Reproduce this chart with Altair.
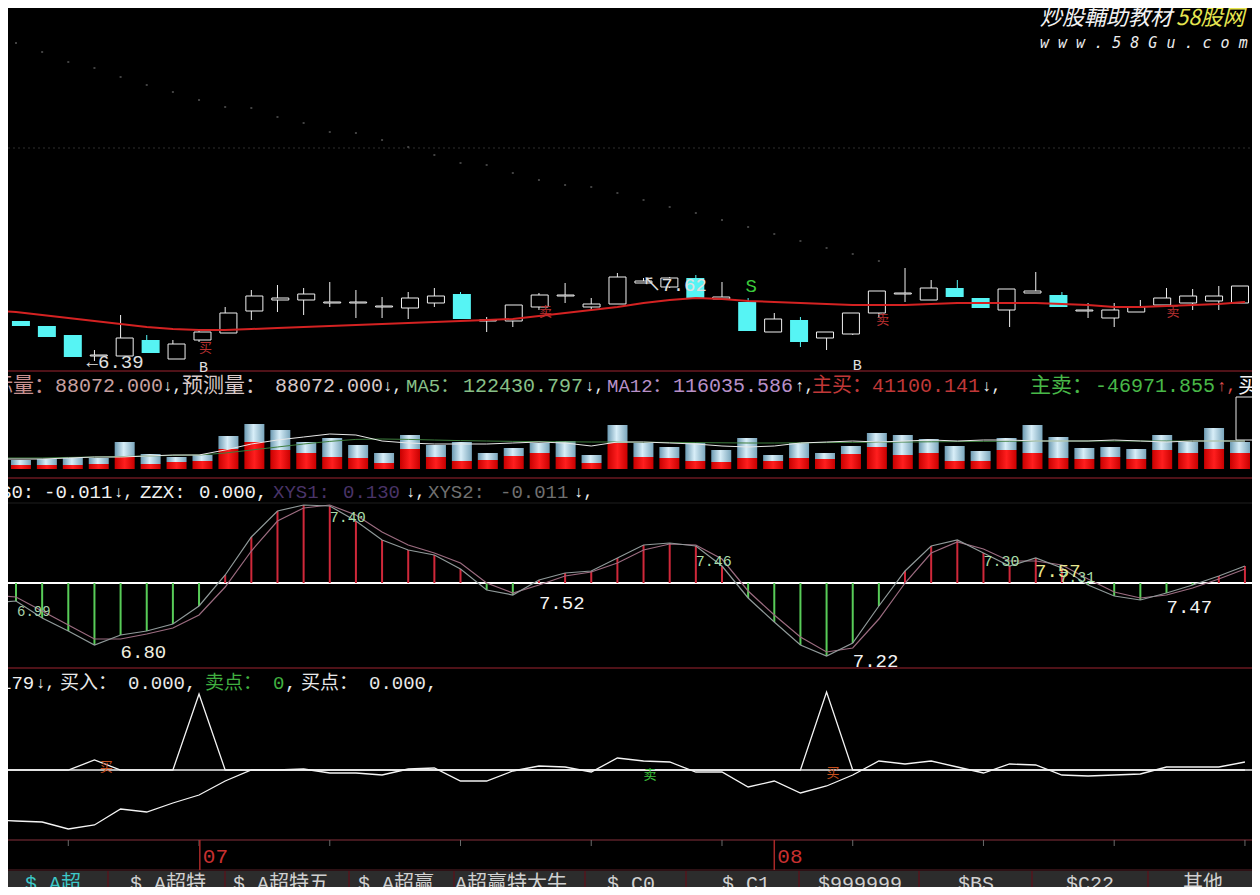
import altair as alt
import pandas as pd

# ---------------- data ----------------
candle_idx = list(range(48))
open_p = [6.79,6.74,6.65,6.44,6.44,6.60,6.41,6.60,6.67,6.89,7.00,7.00,6.97,6.97,6.93,6.92,6.97,7.06,6.79,6.79,
          6.93,7.04,6.93,6.96,7.17,7.13,7.22,7.01,6.98,6.68,6.80,6.62,6.66,6.87,7.06,7.00,7.12,7.02,6.90,7.07,
          7.05,6.89,6.82,6.88,6.95,6.97,6.99,6.97]
close_p = [6.74,6.63,6.43,6.45,6.62,6.47,6.56,6.68,6.87,7.04,7.02,7.06,6.98,6.98,6.94,7.02,7.04,6.81,6.80,6.95,
           7.05,7.05,6.96,7.23,7.19,7.22,7.02,7.03,6.69,6.81,6.58,6.68,6.87,7.09,7.07,7.12,7.03,6.92,7.11,7.09,
           6.93,6.90,6.90,6.93,7.02,7.04,7.04,7.14]
high_p = [6.79,6.74,6.65,6.50,6.85,6.65,6.60,6.70,6.93,7.10,7.15,7.12,7.18,7.10,7.03,7.08,7.12,7.08,6.83,6.95,
          7.07,7.17,7.02,7.27,7.22,7.23,7.25,7.18,7.02,6.87,6.83,6.68,6.87,7.09,7.32,7.20,7.20,7.02,7.11,7.28,
          7.08,6.97,6.97,7.00,7.12,7.11,7.14,7.14]
low_p = [6.74,6.63,6.43,6.39,6.44,6.47,6.41,6.58,6.67,6.80,6.88,6.85,6.93,6.82,6.82,6.81,6.93,6.81,6.68,6.73,
         6.90,6.97,6.90,6.96,7.17,7.12,7.02,7.01,6.69,6.68,6.53,6.50,6.65,6.82,6.98,7.00,7.03,6.92,6.73,7.07,
         6.93,6.82,6.73,6.88,6.95,6.90,6.90,6.97]

line_idx = list(range(-1, 48))
ma_line = [6.90,6.88,6.85,6.82,6.79,6.76,6.73,6.71,6.70,6.70,6.71,6.72,6.73,6.74,6.75,6.76,6.77,6.78,6.79,6.80,
           6.81,6.84,6.87,6.90,6.93,6.97,7.00,7.02,7.01,6.99,6.98,6.97,6.96,6.95,6.95,6.95,6.96,6.97,6.97,6.97,
           6.97,6.96,6.95,6.93,6.93,6.94,6.95,6.96,6.98]

dot_idx = list(range(34))
dot_p = [9.57,9.48,9.38,9.32,9.23,9.15,9.08,9.00,8.93,8.92,8.83,8.77,8.68,8.67,8.60,8.53,8.45,8.37,8.35,8.27,
         8.20,8.15,8.13,8.07,8.00,7.93,7.87,7.80,7.73,7.66,7.59,7.52,7.46,7.39]

vol_total = [45000,50000,55000,55000,135000,75000,60000,70000,165000,225000,
             195000,135000,155000,120000,80000,170000,120000,135000,80000,105000,
             130000,140000,70000,220000,130000,110000,130000,95000,155000,70000,
             130000,80000,115000,180000,170000,150000,115000,90000,155000,220000,
             160000,105000,110000,100000,170000,135000,205000,135000]
vol_buy = [20000,20000,20000,25000,60000,25000,35000,40000,100000,135000,
           95000,80000,60000,55000,30000,100000,60000,40000,45000,65000,
           80000,60000,30000,130000,60000,55000,40000,35000,55000,40000,
           55000,50000,75000,110000,70000,80000,40000,40000,95000,80000,
           55000,50000,60000,50000,95000,80000,100000,80000]
vol_ma5 = [50000,50000,50000,55000,60000,60000,65000,70000,70000,95000,125000,145000,160000,175000,170000,
           140000,130000,125000,125000,125000,130000,135000,130000,115000,135000,135000,130000,125000,115000,
           110000,115000,130000,135000,140000,135000,140000,145000,140000,145000,145000,140000,140000,140000,
           145000,140000,135000,140000,140000,140000]
vol_ma12 = [55000,55000,55000,58000,60000,62000,65000,68000,70000,80000,
            95000,110000,125000,138000,148000,150000,148000,145000,142000,140000,
            138000,137000,136000,135000,135000,134000,133000,132000,131000,130000,
            130000,131000,132000,133000,134000,135000,136000,137000,138000,139000,
            140000,140000,140000,140000,140000,140000,140000,140000,140000]

osc_bar = [-0.09,-0.175,-0.24,-0.31,-0.26,-0.24,-0.205,-0.115,0.04,0.23,
           0.36,0.39,0.385,0.31,0.215,0.165,0.14,0.07,-0.035,-0.06,
           0.015,0.05,0.06,0.125,0.19,0.20,0.185,0.085,-0.075,-0.195,
           -0.31,-0.365,-0.30,-0.115,0.06,0.185,0.215,0.15,0.085,0.125,
           0.075,-0.01,-0.065,-0.085,-0.05,-0.01,0.035,0.085]
osc_a = [-0.10] + osc_bar
osc_b = [-0.06,-0.07,-0.14,-0.21,-0.28,-0.28,-0.255,-0.225,-0.16,-0.02,0.16,0.31,0.375,0.39,0.34,0.255,0.19,
         0.15,0.10,0.0,-0.05,-0.01,0.035,0.055,0.10,0.165,0.195,0.19,0.12,-0.04,-0.16,-0.27,-0.345,-0.325,
         -0.18,0.0,0.15,0.205,0.17,0.11,0.11,0.09,0.02,-0.045,-0.075,-0.06,-0.025,0.02,0.07]

bot_line = [-0.50,-0.51,-0.52,-0.59,-0.55,-0.39,-0.42,-0.33,-0.25,-0.11,0.0,0.0,0.01,-0.03,-0.03,-0.05,0.01,
            0.02,-0.11,-0.11,-0.01,0.04,0.03,-0.02,0.12,0.09,0.08,-0.02,-0.02,-0.17,-0.11,-0.23,-0.16,-0.05,
            0.09,0.06,0.09,0.03,-0.03,0.06,0.05,-0.05,-0.06,-0.05,-0.04,0.03,0.03,0.03,0.08]
bot_spike = [0, 0, 0, 0, 0.10, 0, 0, 0, 0.76, 0, 0,
             0, 0, 0, 0, 0, 0, 0, 0, 0, 0,
             0, 0, 0, 0, 0, 0, 0, 0, 0, 0,
             0, 0.78,
             0, 0, 0, 0, 0, 0, 0, 0,
             0, 0, 0, 0, 0, 0, 0, 0]

tick_idx = [2, 7, 12, 17, 22, 27, 32, 37, 42, 47]
month_idx = [7.03, 29.0]
month_text = ["07", "08"]

main_lab_text = ["←6.39", "↖7.62", "S", "B", "B", "买", "卖", "卖", "卖"]
main_lab_i = [2.7, 23.95, 27.9, 7.0, 32.0, 7.0, 20.0, 32.9, 44.0]
main_lab_p = [6.38, 7.15, 7.14, 6.33, 6.35, 6.52, 6.88, 6.80, 6.88]

osc_lab_text = ["6.99", "6.80", "7.40", "7.52", "7.46", "7.22", "7.30", "7.57", "7.31", "7.47"]
osc_lab_i = [0.04, 4.0, 12.0, 20.0, 26.0, 32.0, 37.0, 38.97, 39.9, 44.0]
osc_lab_v = [-0.145, -0.345, 0.33, -0.10, 0.11, -0.39, 0.11, 0.06, 0.03, -0.12]

bot_lab_text = ["买", "卖", "买"]
bot_lab_i = [3.2, 24.0, 31.0]
bot_lab_v = [0.03, -0.05, -0.03]

vol_head_text = ["标量：", "88072.000", "↓,", "预测量：", "88072.000", "↓,", "MA5：", "122430.797", "↓,",
                 "MA12：", "116035.586", "↑,", "主买：", "41100.141", "↓,", "主卖：", "-46971.855", "↑,", "买"]
osc_head_text = ["S0:", "-0.011", "↓,", "ZZX:", "0.000,", "XYS1:", "0.130", "↓,", "XYS2:", "-0.011", "↓,"]
bot_head_text = ["179", "↓,", "买入：", "0.000,", "卖点：", "0", ",", "买点：", "0.000,"]
tab_text = ["$ A超", "$ A超特", "$ A超特五", "$ A超赢", "A超赢特大牛", "$ C0", "$ C1", "$999999", "$BS", "$C22", "其他"]

# ---------------- layout / style ----------------
W, H = 1244, 879
FONT = "Liberation Mono, Noto Sans CJK SC"
XS = alt.Scale(domain=[-0.306, 47.27], nice=False, zero=False)
S_MAIN = alt.Scale(domain=[6.30, 9.92], range=[362, 0], nice=False, zero=False)
S_VOL = alt.Scale(domain=[0, 485000], range=[461, 364], nice=False, zero=False)
S_OSC = alt.Scale(domain=[-0.425, 0.525], range=[660, 470], nice=False, zero=False)
S_BOT = alt.Scale(domain=[-0.70, 1.0], range=[832, 662], nice=False, zero=False)
PX_X = alt.Scale(domain=[8, 1252], range=[0, 1244], nice=False, zero=False)
PX_Y = alt.Scale(domain=[8, 887], range=[0, 879], nice=False, zero=False)


def xi(f="i"):
    return alt.X(f"{f}:Q", scale=XS, axis=None)


def yv(f, s):
    return alt.Y(f"{f}:Q", scale=s, axis=None)


def px_text(texts, xs, y, colors, sizes, font=FONT, style="normal"):
    if not isinstance(sizes, list):
        sizes = [sizes] * len(texts)
    df = pd.DataFrame({"t": texts, "x": xs, "y": [y] * len(texts), "col": colors, "fs": sizes})
    return alt.Chart(df).mark_text(align="left", baseline="middle", font=font, fontStyle=style).encode(
        x=alt.X("x:Q", scale=PX_X, axis=None), y=alt.Y("y:Q", scale=PX_Y, axis=None),
        text="t:N", color=alt.Color("col:N", scale=None), size=alt.Size("fs:Q", scale=None))


layers = []

# tab bar background & frame lines
layers.append(alt.Chart(pd.DataFrame({"y0": [871], "y1": [895]})).mark_rect(color="#2c2c2c").encode(
    y=alt.Y("y0:Q", scale=PX_Y, axis=None), y2="y1:Q", x=alt.value(0), x2=alt.value(W)))
frame = pd.DataFrame({"y": [371, 478, 668, 840, 870, 503],
                      "col": ["#6a1820", "#6a1820", "#6a1820", "#5a2028", "#5a2028", "#1e1e1e"],
                      "w": [1.5, 1.5, 1.5, 1.5, 1, 1]})
layers.append(alt.Chart(frame).mark_rule().encode(
    y=alt.Y("y:Q", scale=PX_Y, axis=None), x=alt.value(0), x2=alt.value(W),
    color=alt.Color("col:N", scale=None), strokeWidth=alt.StrokeWidth("w:Q", scale=None)))
layers.append(alt.Chart(pd.DataFrame({"y": [148]})).mark_rule(color="#2e2e2e", strokeDash=[2, 3]).encode(
    y=alt.Y("y:Q", scale=PX_Y, axis=None), x=alt.value(0), x2=alt.value(W)))
sep_x = [108, 225, 349, 454, 585, 686, 799, 919, 1032, 1148]
layers.append(alt.Chart(pd.DataFrame({"x": sep_x})).mark_rule(color="#4a1a20", strokeWidth=2).encode(
    x=alt.X("x:Q", scale=PX_X, axis=None), y=alt.value(863), y2=alt.value(H)))
# outline box at the right end of the volume panel
layers.append(alt.Chart(pd.DataFrame({"x0": [1236], "x1": [1256], "y0": [397], "y1": [440]})).mark_rect(
    fill="black", stroke="#e8e8e8", strokeWidth=1).encode(
    x=alt.X("x0:Q", scale=PX_X, axis=None), x2="x1:Q", y=alt.Y("y0:Q", scale=PX_Y, axis=None), y2="y1:Q"))

# ---- main panel ----
layers.append(alt.Chart(pd.DataFrame({"i": dot_idx, "p": dot_p})).mark_square(size=4, color="#5c5c5c").encode(
    x=xi(), y=yv("p", S_MAIN)))

cdf = pd.DataFrame({"i": candle_idx, "o": open_p, "c": close_p, "h": high_p, "l": low_p})
cbase = alt.Chart(cdf)
UP, DN = "datum.c >= datum.o", "datum.c < datum.o"
CYAN = "#56f4f4"
layers.append(cbase.transform_filter(UP).mark_rule(color="#f0f0f0", strokeWidth=1).encode(
    x=xi(), y=yv("h", S_MAIN), y2="l:Q"))
layers.append(cbase.transform_filter(DN).mark_rule(color=CYAN, strokeWidth=1).encode(
    x=xi(), y=yv("h", S_MAIN), y2="l:Q"))
layers.append(cbase.transform_filter(UP).mark_bar(size=17, fill="black", stroke="#f0f0f0", strokeWidth=1).encode(
    x=xi(), y=yv("o", S_MAIN), y2="c:Q"))
layers.append(cbase.transform_filter(DN).mark_bar(size=18, color=CYAN).encode(
    x=xi(), y=yv("o", S_MAIN), y2="c:Q"))
layers.append(alt.Chart(pd.DataFrame({"i": line_idx, "m": ma_line})).mark_line(
    color="#d42222", strokeWidth=2, clip=True).encode(x=xi(), y=yv("m", S_MAIN)))
mlab = pd.DataFrame({"i": main_lab_i, "p": main_lab_p, "t": main_lab_text,
                     "col": ["#e0e0e0", "#e0e0e0", "#3cc83c", "#e0e0e0", "#e0e0e0",
                             "#b83030", "#b83030", "#b83030", "#b83030"],
                     "fs": [19, 19, 19, 15, 15, 13, 13, 13, 13]})
layers.append(alt.Chart(mlab).mark_text(align="left", baseline="middle", font=FONT).encode(
    x=xi(), y=yv("p", S_MAIN), text="t:N", color=alt.Color("col:N", scale=None),
    size=alt.Size("fs:Q", scale=None)))

# ---- volume panel ----
grad_blue = {"gradient": "linear", "x1": 0, "x2": 1, "y1": 0, "y2": 0,
             "stops": [{"offset": 0, "color": "#6c9ab2"}, {"offset": 0.45, "color": "#d8eef8"},
                       {"offset": 1, "color": "#7aa6bc"}]}
grad_red = {"gradient": "linear", "x1": 0, "x2": 1, "y1": 0, "y2": 0,
            "stops": [{"offset": 0, "color": "#c80000"}, {"offset": 0.5, "color": "#ff1e1e"},
                      {"offset": 1, "color": "#c80000"}]}
vdf = pd.DataFrame({"i": candle_idx, "tot": vol_total, "buy": vol_buy, "z": [0] * len(candle_idx)})
layers.append(alt.Chart(vdf).mark_bar(size=20, color=grad_red).encode(x=xi(), y=yv("buy", S_VOL), y2="z:Q"))
layers.append(alt.Chart(vdf).mark_bar(size=20, color=grad_blue).encode(x=xi(), y=yv("tot", S_VOL), y2="buy:Q"))
vl = pd.DataFrame({"i": line_idx, "m5": vol_ma5, "m12": vol_ma12})
layers.append(alt.Chart(vl).mark_line(color="#3e7e3e", strokeWidth=1, clip=True).encode(x=xi(), y=yv("m12", S_VOL)))
layers.append(alt.Chart(vl).mark_line(color="#e8e8e8", strokeWidth=1, clip=True).encode(x=xi(), y=yv("m5", S_VOL)))

# ---- oscillator panel ----
layers.append(alt.Chart(pd.DataFrame({"v": [0]})).mark_rule(color="white", strokeWidth=2).encode(
    y=yv("v", S_OSC), x=alt.value(0), x2=alt.value(W)))
odf = pd.DataFrame({"i": candle_idx, "v": osc_bar, "z": [0] * len(candle_idx)})
layers.append(alt.Chart(odf).mark_rule(strokeWidth=2).encode(
    x=xi(), y=yv("v", S_OSC), y2="z:Q",
    color=alt.condition("datum.v > 0", alt.value("#d0283a"), alt.value("#58cc58"))))
ol = pd.DataFrame({"i": line_idx, "a": osc_a, "b": osc_b})
layers.append(alt.Chart(ol).mark_line(color="#9c6c80", strokeWidth=1.2, clip=True).encode(x=xi(), y=yv("b", S_OSC)))
layers.append(alt.Chart(ol).mark_line(color="#909a9a", strokeWidth=1.2, clip=True).encode(x=xi(), y=yv("a", S_OSC)))
olab = pd.DataFrame({"i": osc_lab_i, "v": osc_lab_v, "t": osc_lab_text,
                     "col": ["#a8d0a8", "#f0f0e0", "#a8dca8", "#f4f4f4", "#a8dca8", "#f4f4f4",
                             "#a8dca8", "#e8e890", "#a8dca8", "#f4f4f4"],
                     "fs": [14, 19, 15, 19, 15, 19, 15, 19, 15, 19]})
layers.append(alt.Chart(olab).mark_text(align="left", baseline="middle", font=FONT).encode(
    x=xi(), y=yv("v", S_OSC), text="t:N", color=alt.Color("col:N", scale=None),
    size=alt.Size("fs:Q", scale=None)))

# ---- bottom panel ----
layers.append(alt.Chart(pd.DataFrame({"v": [0]})).mark_rule(color="#f0f0f0", strokeWidth=1.5).encode(
    y=yv("v", S_BOT), x=alt.value(0), x2=alt.value(W)))
bdf = pd.DataFrame({"i": line_idx, "m": bot_line, "s": bot_spike})
layers.append(alt.Chart(bdf).mark_line(color="#f4f4f4", strokeWidth=1.3, clip=True).encode(x=xi(), y=yv("s", S_BOT)))
layers.append(alt.Chart(bdf).mark_line(color="#f4f4f4", strokeWidth=1.3, clip=True).encode(x=xi(), y=yv("m", S_BOT)))
blab = pd.DataFrame({"i": bot_lab_i, "v": bot_lab_v, "t": bot_lab_text,
                     "col": ["#c8501e", "#3cc03c", "#c8501e"]})
layers.append(alt.Chart(blab).mark_text(align="left", baseline="middle", font=FONT, fontSize=13).encode(
    x=xi(), y=yv("v", S_BOT), text="t:N", color=alt.Color("col:N", scale=None)))

# ---- time axis ----
layers.append(alt.Chart(pd.DataFrame({"i": tick_idx})).mark_rule(color="#6a6a6a").encode(
    x=xi(), y=alt.value(832), y2=alt.value(838)))
mdf = pd.DataFrame({"i": month_idx, "t": month_text})
layers.append(alt.Chart(mdf).mark_rule(color="#a82828", strokeWidth=1.5).encode(
    x=xi(), y=alt.value(832), y2=alt.value(862)))
layers.append(alt.Chart(mdf).mark_text(align="left", baseline="middle", dx=3, font=FONT, fontSize=21,
                                       color="#c83030").encode(x=xi(), y=alt.value(849), text="t:N"))

# ---- header texts ----
WH = "#f0f0f0"
layers.append(px_text(vol_head_text,
                      [-8, 55, 163, 182, 275, 383, 406, 463, 585, 607, 673, 795, 812, 872, 982, 1030, 1095, 1217, 1238],
                      386,
                      ["#c89090", "#c8a0a0", WH, "#d8c8c8", "#d8c8c8", WH, "#88c088", "#88c088", WH,
                       "#b890c8", "#b890c8", WH, "#c03838", "#c03838", WH, "#48b848", "#48b848", "#e05050", WH],
                      [21, 20, 16, 21, 20, 16, 19, 20, 16, 19, 20, 16, 20, 20, 16, 21, 20, 16, 21]))
layers.append(px_text(osc_head_text, [0, 44, 114, 140, 199, 273, 343, 406, 428, 500, 574], 492,
                      [WH, WH, WH, WH, WH, "#4a3468", "#4a3468", WH, "#707070", "#707070", WH],
                      [19, 19, 16, 19, 19, 19, 19, 16, 19, 19, 16]))
layers.append(px_text(bot_head_text, [0, 36, 60, 128, 205, 273, 285, 301, 369], 683,
                      [WH, WH, "#e8e8e8", "#e8e8e8", "#40b040", "#40b040", "#e8e8e8", "#e8e8e8", "#e8e8e8"],
                      [19, 16, 19, 19, 19, 19, 19, 19, 19]))
layers.append(px_text(tab_text, [25, 130, 233, 358, 455, 607, 722, 818, 958, 1066, 1183], 884,
                      ["#3cc8c8"] + ["#d0d0d0"] * 10, 20))

# ---- watermark ----
layers.append(px_text(["炒股輔助教材", "58股网"], [1040, 1176], 18, ["#f2f2f2", "#e6e650"], 22,
                      font="Noto Sans CJK TC", style="italic"))
layers.append(px_text(["w w w . 5 8 G u . c o m"], [1040], 43, ["#ececec"], 15,
                      font="DejaVu Sans Mono", style="italic"))

chart = alt.layer(*layers).resolve_scale(x="independent", y="independent").properties(
    width=W, height=H, padding=0, autosize=alt.AutoSizeParams(type="none"), background="black"
).configure_view(strokeWidth=0)

chart.save("out.html", embed_options={"renderer": "svg", "actions": False})
